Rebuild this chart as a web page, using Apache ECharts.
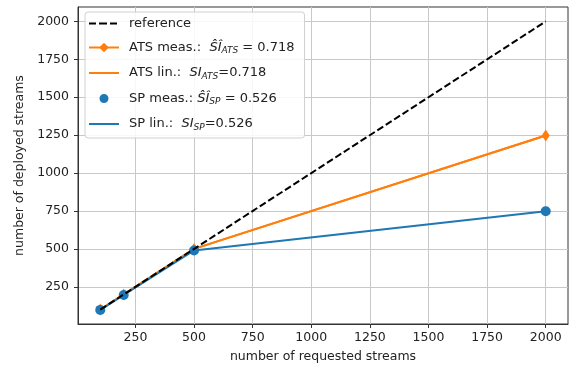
<!DOCTYPE html>
<html>
<head>
<meta charset="utf-8">
<script src="https://cdn.jsdelivr.net/npm/echarts@6/dist/echarts.min.js"></script>
<style>
html,body{margin:0;padding:0;background:#fff;}
#chart{width:570px;height:368px;}
</style>
</head>
<body>
<div id="chart"></div>
<script>
const requested = [100, 200, 500, 2000];
const atsDeployed = [100, 200, 500, 1248];
const spDeployed = [98, 196, 490, 748];
const referenceX = [100, 2000];
const referenceY = [100, 2000];
const xTicks = [250, 500, 750, 1000, 1250, 1500, 1750, 2000];
const yTicks = [250, 500, 750, 1000, 1250, 1500, 1750, 2000];
const legendNames = ['reference', 'ATS meas.', 'ATS lin.', 'SP meas.', 'SP lin.'];

const pairs = (xs, ys) => xs.map((x, i) => [x, ys[i]]);
const FONT = 'DejaVu Sans';
const ORANGE = '#ff7f0e', BLUE = '#1f77b4';

const chart = echarts.init(document.getElementById('chart'), null, {renderer: 'canvas'});

const axisCommon = {
  axisLine: {show: true, onZero: false, lineStyle: {color: '#333', width: 1}},
  axisTick: {show: true, length: 4, inside: false, lineStyle: {color: '#333'}},
  splitLine: {show: true, lineStyle: {color: '#c8c8c8', width: 1}},
  nameTextStyle: {fontFamily: FONT, fontSize: 12.5, color: '#222'}
};

// legend icon shapes (30 x 12 box; corner specks keep the box size)
const BOX = 'M0,0L0.01,0L0.01,0.01Z M30,12L29.99,12L29.99,11.99Z ';
const ICON_LINE = 'path://' + BOX + 'M0,5L30,5L30,7L0,7Z';
const ICON_DASH = 'path://' + BOX + 'M0,5L7,5L7,7L0,7Z M10,5L18,5L18,7L10,7Z M21,5L28,5L28,7L21,7Z';
const ICON_DOT = 'path://' + BOX + 'M10.5,6A4.5,4.5 0 1 1 19.5,6A4.5,4.5 0 1 1 10.5,6Z';

const legendFmt = {
  'reference': '{n|reference}',
  'ATS meas.': '{n|ATS meas.:  }{i|S\u0302I\u0302}{s|ATS}{n| = 0.718}',
  'ATS lin.': '{n|ATS lin.:  }{i|SI}{s|ATS}{n|=0.718}',
  'SP meas.': '{n|SP meas.: }{i|S\u0302I\u0302}{s|SP}{n| = 0.526}',
  'SP lin.': '{n|SP lin.:  }{i|SI}{s|SP}{n|=0.526}'
};

const plain = v => String(v);

chart.setOption({
  animation: false,
  grid: {left: 78, right: 2, top: 7, bottom: 44, show: true, borderColor: '#333', borderWidth: 1, backgroundColor: 'transparent'},
  xAxis: Object.assign({}, axisCommon, {
    type: 'value', min: 5, max: 2095,
    name: 'number of requested streams', nameLocation: 'middle', nameGap: 26,
    axisTick: Object.assign({}, axisCommon.axisTick, {customValues: xTicks}),
    axisLabel: {customValues: xTicks, formatter: plain, fontFamily: FONT, fontSize: 12.5, color: '#222', margin: 7}
  }),
  yAxis: Object.assign({}, axisCommon, {
    type: 'value', min: 5, max: 2095,
    name: 'number of deployed streams', nameLocation: 'middle', nameGap: 48,
    axisTick: Object.assign({}, axisCommon.axisTick, {customValues: yTicks}),
    axisLabel: {customValues: yTicks, formatter: plain, fontFamily: FONT, fontSize: 12.5, color: '#222', margin: 9}
  }),
  legend: {
    data: [
      {name: 'reference', icon: ICON_DASH},
      {name: 'ATS meas.'},
      {name: 'ATS lin.', icon: ICON_LINE},
      {name: 'SP meas.', icon: ICON_DOT},
      {name: 'SP lin.', icon: ICON_LINE}
    ],
    orient: 'vertical', left: 85, top: 12,
    itemWidth: 30, itemHeight: 12, itemGap: 11,
    symbolKeepAspect: false,
    padding: [5, 10, 6, 3],
    backgroundColor: 'rgba(255,255,255,0.85)',
    borderColor: '#d0d0d0', borderWidth: 1, borderRadius: 3,
    formatter: name => legendFmt[name],
    textStyle: {
      fontFamily: FONT, fontSize: 13, color: '#222', padding: [0, 0, 0, 5],
      rich: {
        n: {fontFamily: FONT, fontSize: 13, color: '#222', lineHeight: 16},
        i: {fontFamily: FONT, fontSize: 13, fontStyle: 'italic', color: '#222', lineHeight: 16},
        s: {fontFamily: FONT, fontSize: 9, fontStyle: 'italic', color: '#222', verticalAlign: 'bottom', lineHeight: 12, padding: [4, 0, 0, 0]}
      }
    }
  },
  series: [
    {
      name: 'ATS meas.', type: 'line', data: pairs(requested, atsDeployed),
      symbol: 'path://M0,-1.5L1,0L0,1.5L-1,0Z', symbolSize: [8, 12], showSymbol: true,
      lineStyle: {color: ORANGE, width: 2}, itemStyle: {color: ORANGE, opacity: 1}, z: 2
    },
    {
      name: 'ATS lin.', type: 'line', data: pairs(requested, atsDeployed),
      symbol: 'none', lineStyle: {color: ORANGE, width: 2}, itemStyle: {color: ORANGE}, z: 2
    },
    {
      name: 'SP meas.', type: 'scatter', data: pairs(requested, spDeployed),
      symbol: 'circle', symbolSize: 10, itemStyle: {color: BLUE, opacity: 1}, z: 3
    },
    {
      name: 'SP lin.', type: 'line', data: pairs(requested, spDeployed),
      symbol: 'none', lineStyle: {color: BLUE, width: 2}, itemStyle: {color: BLUE}, z: 3
    },
    {
      name: 'reference', type: 'line', data: pairs(referenceX, referenceY),
      symbol: 'none', lineStyle: {color: '#000', width: 2, type: [7, 3]}, itemStyle: {color: '#000'}, z: 5
    }
  ]
});
</script>
</body>
</html>
